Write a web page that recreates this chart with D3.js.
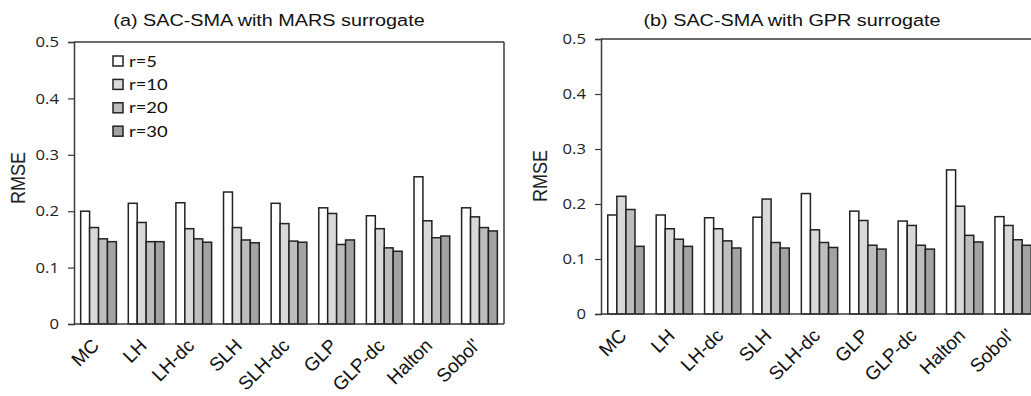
<!DOCTYPE html>
<html>
<head>
<meta charset="utf-8">
<script src="https://cdn.jsdelivr.net/npm/d3@7"></script>
<style>
  body { margin: 0; background: #fff; }
  svg { display: block; }
</style>
</head>
<body>
<svg id="chart" width="1031" height="396"></svg>
<script>
// categories and series
const methods = ["MC", "LH", "LH-dc", "SLH", "SLH-dc", "GLP", "GLP-dc", "Halton", "Sobol'"];
const seriesNames = ["r=5", "r=10", "r=20", "r=30"];
const seriesColors = ["#ffffff", "#d9d9d9", "#bdbdbd", "#a3a3a3"];
const yTicks = [0, 0.1, 0.2, 0.3, 0.4, 0.5];

// (a) MARS surrogate, one array per r
const marsR5  = [0.200, 0.214, 0.215, 0.234, 0.214, 0.206, 0.192, 0.261, 0.206];
const marsR10 = [0.171, 0.180, 0.169, 0.171, 0.178, 0.196, 0.169, 0.183, 0.190];
const marsR20 = [0.151, 0.146, 0.151, 0.149, 0.147, 0.141, 0.135, 0.153, 0.171];
const marsR30 = [0.146, 0.146, 0.145, 0.144, 0.145, 0.149, 0.129, 0.156, 0.165];

// (b) GPR surrogate
const gprR5  = [0.180, 0.180, 0.175, 0.176, 0.219, 0.187, 0.169, 0.262, 0.177];
const gprR10 = [0.214, 0.155, 0.155, 0.209, 0.153, 0.170, 0.161, 0.196, 0.161];
const gprR20 = [0.190, 0.136, 0.133, 0.130, 0.130, 0.125, 0.125, 0.143, 0.135];
const gprR30 = [0.123, 0.123, 0.120, 0.120, 0.121, 0.118, 0.118, 0.131, 0.125];

const svg = d3.select("#chart");
const ink = "#222";
const axisInk = "#3a3a3a";
const sansA = "Liberation Sans, Arial, sans-serif";
const sansB = "Open Sans, sans-serif";

function drawPanel(opts) {
  const g = svg.append("g");
  const x = d3.scaleBand().domain(methods).range([opts.left, opts.right]).paddingInner(0.25).paddingOuter(0.14);
  const xs = d3.scaleBand().domain(seriesNames).range([0, x.bandwidth()]);
  const y = d3.scaleLinear().domain([0, 0.5]).range([opts.bottom, opts.top]);

  // title (the source figure is stretched sideways a little)
  g.append("text")
    .attr("transform", "translate(" + opts.titleX + ",26) scale(1.2,1)")
    .attr("text-anchor", "middle")
    .style("font-family", sansA)
    .style("font-size", "16.5px")
    .attr("fill", "#111")
    .text(opts.title);

  // frame (top + right)
  g.append("line").attr("x1", opts.left).attr("x2", opts.frameRight)
    .attr("y1", opts.top).attr("y2", opts.top)
    .attr("stroke", axisInk).attr("stroke-width", 1.5);
  if (opts.showRight) {
    g.append("line").attr("x1", opts.frameRight).attr("x2", opts.frameRight)
      .attr("y1", opts.top).attr("y2", opts.bottom)
      .attr("stroke", axisInk).attr("stroke-width", 1.5);
  }

  // bars
  const rows = methods.map((m, i) => ({ m, vals: opts.series.map(s => s[i]) }));
  const grp = g.selectAll(".grp").data(rows).enter().append("g")
    .attr("transform", d => "translate(" + x(d.m) + ",0)");
  grp.selectAll("rect")
    .data(d => d.vals.map((v, k) => ({ k, v })))
    .enter().append("rect")
    .attr("x", d => xs(seriesNames[d.k]))
    .attr("width", xs.bandwidth())
    .attr("y", d => y(d.v))
    .attr("height", d => opts.bottom - y(d.v))
    .attr("fill", d => seriesColors[d.k])
    .attr("stroke", ink)
    .attr("stroke-width", 1.5);

  // y axis
  const ya = g.append("g")
    .attr("transform", "translate(" + opts.left + ",0)")
    .call(d3.axisLeft(y).tickValues(yTicks).tickFormat(d => d === 0 ? "0" : d3.format(".1f")(d)).tickSize(6).tickPadding(9));
  ya.select(".domain").attr("stroke", axisInk).attr("stroke-width", 1.5);
  ya.selectAll(".tick line").attr("stroke", axisInk).attr("stroke-width", 1.2);
  ya.selectAll(".tick text")
    .attr("x", 0)
    .attr("transform", "translate(-15,0) scale(1.15,1)")
    .style("font-family", sansB)
    .style("font-size", "14.5px")
    .attr("fill", "#222");

  // x axis line
  g.append("line").attr("x1", opts.left).attr("x2", opts.frameRight)
    .attr("y1", opts.bottom).attr("y2", opts.bottom)
    .attr("stroke", axisInk).attr("stroke-width", 1.5);

  // rotated category labels
  g.selectAll(".xl").data(methods).enter().append("text")
    .attr("transform", d => "translate(" + (x(d) + x.bandwidth() / 2 - 3) + "," + (opts.bottom + opts.labelDrop) + ") rotate(-45)")
    .attr("text-anchor", "end")
    .attr("dy", "0.35em")
    .style("font-family", sansA)
    .style("font-size", "19px")
    .attr("fill", "#111")
    .text(d => d);

  // y label
  g.append("text")
    .attr("transform", "translate(" + opts.yLabelX + "," + opts.yLabelY + ") scale(1.12,1) rotate(-90)")
    .attr("text-anchor", "middle")
    .attr("dy", "0.35em")
    .style("font-family", sansA)
    .style("font-size", "18px")
    .attr("fill", "#222")
    .text("RMSE");
}

drawPanel({
  title: "(a) SAC-SMA with MARS surrogate", titleX: 269,
  left: 74, right: 504, frameRight: 504, showRight: true,
  top: 42, bottom: 324, yLabelX: 18, yLabelY: 178, labelDrop: 18,
  series: [marsR5, marsR10, marsR20, marsR30]
});

drawPanel({
  title: "(b) SAC-SMA with GPR surrogate", titleX: 792,
  left: 601, right: 1038, frameRight: 1031, showRight: false,
  top: 39, bottom: 314, yLabelX: 540, yLabelY: 176, labelDrop: 18,
  series: [gprR5, gprR10, gprR20, gprR30]
});

// legend (panel a)
const legend = svg.append("g").attr("transform", "translate(113,61)");
const li = legend.selectAll("g").data(seriesNames).enter().append("g")
  .attr("transform", (d, i) => "translate(0," + i * 23.4 + ")");
li.append("rect").attr("x", 0).attr("y", -5).attr("width", 10).attr("height", 10)
  .attr("fill", (d, i) => seriesColors[i]).attr("stroke", ink).attr("stroke-width", 1.5);
li.append("text")
  .attr("transform", "translate(16,0) scale(1.15,1)")
  .attr("dy", "0.35em")
  .style("font-family", "Lato, sans-serif").style("font-size", "16px").attr("fill", "#111")
  .text(d => d);
</script>
</body>
</html>
